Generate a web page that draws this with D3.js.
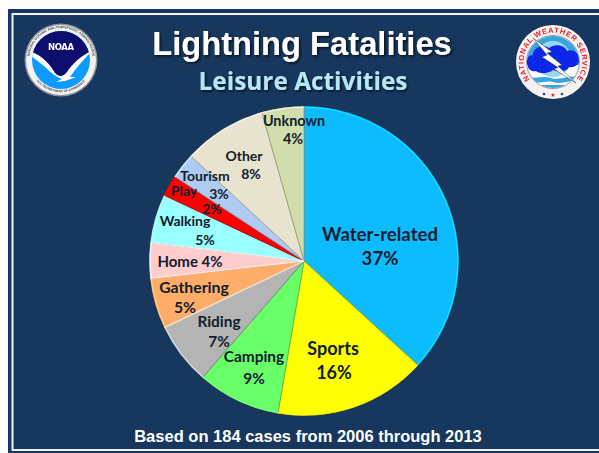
<!DOCTYPE html>
<html><head><meta charset="utf-8">
<script src="https://cdn.jsdelivr.net/npm/d3@7"></script>
<style>html,body{margin:0;padding:0;background:#fff}svg{display:block}</style>
</head><body><svg id="c" width="599" height="453"></svg>
<script>
const categories = ["Water-related","Sports","Camping","Riding","Gathering","Home","Walking","Play","Tourism","Other","Unknown"];
const shares = [36.8,15.9,8.7,6.5,5.3,3.7,5.1,2.2,2.7,8.7,4.4];
const percents = [37,16,9,7,5,4,5,2,3,8,4];
const sliceColors = ["#0DBBFF","#FFFF00","#69FF69","#B4B4B4","#FFAD69","#FFCDCD","#99FFFF","#FF0000","#AFCBF2","#E8E3CE","#D1DDAD"];
const titleText = "Lightning Fatalities";
const subtitleText = "Leisure Activities";
const footText = "Based on 184 cases from 2006 through 2013";

const NAVY = "#17375E";
const svg = d3.select("#c");
const defs = svg.append("defs");
const sh = defs.append("filter").attr("id","ts").attr("x","-10%").attr("y","-20%").attr("width","120%").attr("height","150%");
sh.append("feDropShadow").attr("dx",1.5).attr("dy",1.5).attr("stdDeviation",1).attr("flood-color","#000").attr("flood-opacity",.7);
const blur = defs.append("filter").attr("id","soft");
blur.append("feGaussianBlur").attr("stdDeviation",.35);

// slide frame
svg.append("rect").attr("x",8).attr("y",9).attr("width",591).attr("height",444).attr("fill",NAVY);
svg.append("rect").attr("x",12.5).attr("y",14).attr("width",590).attr("height",436)
  .attr("fill","none").attr("stroke","#F1F3F6").attr("stroke-width",2);

// titles
const tg = svg.append("g").attr("text-anchor","middle");
tg.append("text").attr("x",302).attr("y",55).attr("font-family","Liberation Sans").attr("font-weight",700)
  .attr("font-size",32.7).attr("fill","#fff").attr("filter","url(#ts)").text(titleText);
tg.append("text").attr("x",303).attr("y",90).attr("font-family","Open Sans").attr("font-weight",700)
  .attr("font-size",24.4).attr("fill","#B7E6F7").attr("filter","url(#ts)").text(subtitleText);
tg.append("text").attr("x",308).attr("y",442).attr("font-family","Liberation Sans").attr("font-weight",700)
  .attr("font-size",16.5).attr("fill","#fff").text(footText);

// pie
const cx = 304, cy = 261, R = 154.5;
const pie = d3.pie().sort(null).value(d => d)(shares);
const arc = d3.arc().innerRadius(0).outerRadius(R);
const rim = d3.arc().innerRadius(R-1.2).outerRadius(R);
const pg = svg.append("g").attr("transform",`translate(${cx},${cy})`);
pg.selectAll("path.s").data(pie).join("path").attr("class","s").attr("d",arc)
  .attr("fill",(d,i)=>sliceColors[i])
  .attr("stroke",(d,i)=>d3.color(sliceColors[i]).darker(.9).formatHex())
  .attr("stroke-width",.8).attr("stroke-linejoin","round");
pg.selectAll("path.r").data(pie).join("path").attr("class","r").attr("d",rim)
  .attr("fill",(d,i)=>d3.color(sliceColors[i]).brighter(.7).formatHex()).attr("opacity",.85);
// lit bevel on the upward-facing edges of the left-hand slices
const litEdges = pie.filter(d => d.endAngle > 4.1 && d.endAngle < 5.0);
pg.selectAll("line.lit").data(litEdges).join("line").attr("class","lit")
  .attr("x2",d => R*Math.sin(d.endAngle)).attr("y2",d => -R*Math.cos(d.endAngle))
  .attr("stroke","#FBFBF4").attr("stroke-width",1.3).attr("opacity",.85);

// labels, placed relative to the pie centre
const labelPlacement = [
 [[76,-27],[76,-3],18.6],[[29,88],[30,112],18],
 [[-50,96],[-50,118],15.4],[[-85,61],[-85,81],15.4],
 [[-110,26],[-119,46],15.8],[[-114,1],null,15],
 [[-119,-40],[-99,-21],14],[[-120,-70],[-92,-52],13.8],
 [[-99,-85],[-85,-67],14],[[-60,-105],[-53,-87],14],
 [[-10,-140],[-11,-122],14.4]];
const lg = pg.append("g").attr("font-family","Lato").attr("font-weight",700).attr("fill","#10202E").attr("text-anchor","middle");
categories.forEach((name,i)=>{
  const [a,b,size] = labelPlacement[i];
  const single = b === null;
  lg.append("text").attr("x",a[0]).attr("y",a[1]).attr("dy",".35em").attr("font-size",size)
    .text(single ? `${name} ${percents[i]}%` : name);
  if(!single) lg.append("text").attr("x",b[0]).attr("y",b[1]).attr("dy",".35em").attr("font-size",size).text(percents[i]+"%");
});

// NOAA seal
const noaa = svg.append("g").attr("transform","translate(61,60)").attr("filter","url(#soft)");
noaa.append("circle").attr("r",36.5).attr("fill","#8E969E");
noaa.append("circle").attr("r",35).attr("fill","#F2F2F2");
noaa.append("circle").attr("r",29).attr("fill","#0A9BFF");
defs.append("clipPath").attr("id","nc").append("circle").attr("r",29);
noaa.append("path").attr("clip-path","url(#nc)").attr("fill","#0A0A6E")
  .attr("d","M-32,-32H32V-8C22,-4 14,4 8,13 C3,18 -2,18 -6,15 C-11,6 -20,-4 -32,-8Z");
noaa.append("path").attr("clip-path","url(#nc)").attr("fill","#fff")
  .attr("d","M-32,-9C-20,-6 -11,4 -6,13 C-2,17 2,17 6,12 C12,3 21,-5 32,-10 C23,-1 15,8 9,17 L15,17 L4,21 L-5,22 L1,19 C-8,17 -18,3 -32,-5Z");
noaa.append("text").attr("y",-10).attr("text-anchor","middle").attr("font-family","DejaVu Sans").attr("font-weight",700)
  .attr("font-size",8.5).attr("textLength",26).attr("fill","#fff").text("NOAA");
defs.append("path").attr("id","nt").attr("d","M-31,7A31.8,31.8 0 1 1 31,7");
defs.append("path").attr("id","nb").attr("d","M-26,19A32.2,32.2 0 0 0 26,19");
noaa.append("text").attr("font-family","Liberation Sans").attr("font-size",3.2).attr("font-weight",700).attr("fill","#444")
  .append("textPath").attr("href","#nt").attr("startOffset","50%").attr("text-anchor","middle").text("NATIONAL OCEANIC AND ATMOSPHERIC ADMINISTRATION");
noaa.append("text").attr("font-family","Liberation Sans").attr("font-size",3.2).attr("font-weight",700).attr("fill","#444")
  .append("textPath").attr("href","#nb").attr("startOffset","50%").attr("text-anchor","middle").text("U.S. DEPARTMENT OF COMMERCE");

// NWS seal
const nws = svg.append("g").attr("transform","translate(553,62)").attr("filter","url(#soft)");
nws.append("circle").attr("r",37).attr("fill","#F7F2F2");
defs.append("path").attr("id","wt").attr("d","M-18.5,22.5A29.2,29.2 0 1 1 18.5,22.5");
nws.append("text").attr("font-family","Liberation Sans").attr("font-weight",700).attr("font-size",7.5).attr("fill","#E8202A").attr("letter-spacing",.7)
  .append("textPath").attr("href","#wt").attr("startOffset","50%").attr("text-anchor","middle").text("NATIONAL WEATHER SERVICE");
nws.append("text").attr("y",35).attr("text-anchor","middle").attr("font-family","DejaVu Sans").attr("font-size",6).attr("fill","#E8202A").text("★");
nws.append("circle").attr("cx",-9).attr("cy",32).attr("r",1.3).attr("fill","#1C3FA8");
nws.append("circle").attr("cx",9).attr("cy",32).attr("r",1.3).attr("fill","#1C3FA8");
nws.append("circle").attr("r",26.5).attr("fill","#fff").attr("stroke","#333").attr("stroke-width",.5);
defs.append("clipPath").attr("id","wc").append("circle").attr("r",26);
const wi = nws.append("g").attr("clip-path","url(#wc)");
wi.append("rect").attr("x",-27).attr("y",-27).attr("width",54).attr("height",30).attr("fill","#35A4DF");
wi.append("circle").attr("r",18).attr("cy",-3).attr("fill","#9AD6F0");
wi.append("path").attr("fill","#0A28E8")
  .attr("d","M-25,5C-28,-2 -25,-7 -20,-7C-20,-15 -9,-18 -4,-14C2,-19 12,-17 14,-11C20,-14 27,-8 26,-2C26,3 21,6 16,5C13,11 3,10 0,8C-5,12 -14,12 -17,9C-21,10 -24,8 -25,5Z");
wi.append("path").attr("fill","#35A4DF").attr("d","M-27,14C-16,18 -10,13 -2,16C6,19 14,13 27,15V28H-27Z");
wi.append("path").attr("fill","#fff").attr("d","M-27,19C-14,23 -8,18 0,20C8,23 16,18 27,19V23H-27Z");
nws.append("path").attr("fill","#fff").attr("stroke","#333").attr("stroke-width",.5)
  .attr("d","M-20,-24L-1,-10L-6,-9L9,3L5,4L23,21L1,7L5,5.500L-11,-5L-6,-7Z");
</script></body></html>
